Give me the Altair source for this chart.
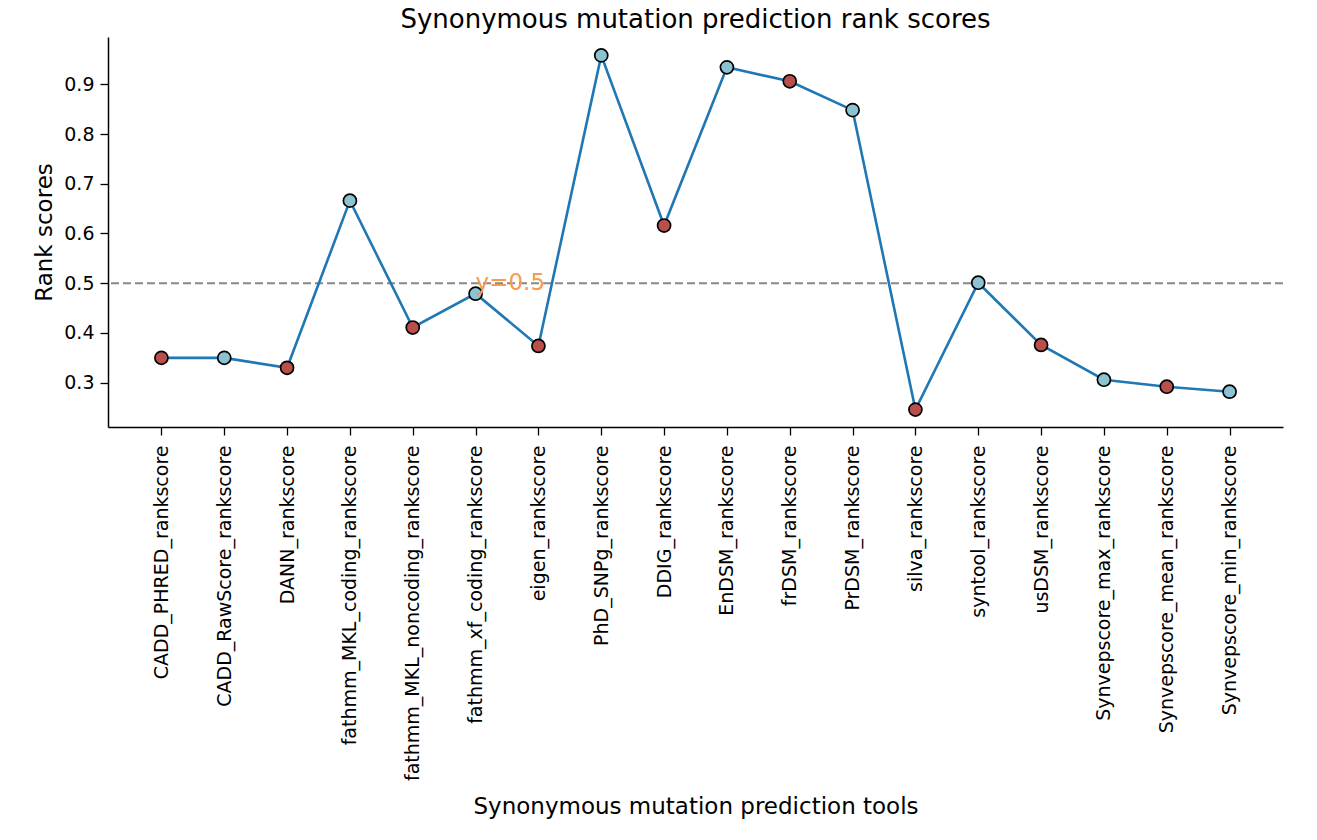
import altair as alt
import pandas as pd

tools = [
    "CADD_PHRED_rankscore", "CADD_RawScore_rankscore", "DANN_rankscore",
    "fathmm_MKL_coding_rankscore", "fathmm_MKL_noncoding_rankscore",
    "fathmm_xf_coding_rankscore", "eigen_rankscore", "PhD_SNPg_rankscore",
    "DDIG_rankscore", "EnDSM_rankscore", "frDSM_rankscore", "PrDSM_rankscore",
    "silva_rankscore", "syntool_rankscore", "usDSM_rankscore",
    "Synvepscore_max_rankscore", "Synvepscore_mean_rankscore",
    "Synvepscore_min_rankscore",
]
scores = [0.350, 0.350, 0.330, 0.666, 0.411, 0.479, 0.374, 0.958, 0.616,
          0.934, 0.906, 0.848, 0.246, 0.501, 0.376, 0.306, 0.292, 0.282]
groups = ["a", "b"] * 9
threshold = 0.5

df = pd.DataFrame({"tool": tools, "score": scores, "group": groups})

FONT = "DejaVu Sans"

x_enc = alt.X(
    "tool:N", sort=tools,
    scale=alt.Scale(type="point", padding=0.85),
    axis=alt.Axis(
        title="Synonymous mutation prediction tools",
        labelAngle=270, labelFontSize=19, labelColor="black", labelFont=FONT, labelLimit=0,
        titleFontSize=23, titleFont=FONT, titleFontWeight="normal", titleColor="black",
        titleY=368, titleBaseline="top", tickSize=8, tickColor="black", domainColor="black",
        domainWidth=1.5, tickWidth=1.3, labelPadding=10, grid=False,
    ),
)
y_scale = alt.Scale(domain=[0.211, 0.995], nice=False, zero=False)
y_enc = alt.Y(
    "score:Q", scale=y_scale,
    axis=alt.Axis(
        title="Rank scores", values=[0.3, 0.4, 0.5, 0.6, 0.7, 0.8, 0.9], format=".1f",
        labelFontSize=19, labelColor="black", labelFont=FONT,
        titleFontSize=23, titleFont=FONT, titleFontWeight="normal", titleColor="black",
        titlePadding=7, tickSize=8, tickColor="black", domainColor="black",
        domainWidth=1.5, tickWidth=1.3, labelPadding=6, grid=False,
    ),
)

base = alt.Chart(df)
line = base.mark_line(color="#1f77b4", strokeWidth=2.6).encode(x=x_enc, y=y_enc)
points = base.mark_point(filled=True, size=170, stroke="black", strokeWidth=1.7, opacity=1).encode(
    x=x_enc, y=y_enc,
    fill=alt.Fill("group:N", scale=alt.Scale(domain=["a", "b"], range=["#b84f4a", "#8cc3d2"]), legend=None),
)

tdf = pd.DataFrame({"y": [threshold], "tool": [tools[5]], "label": ["y=0.5"]})
rule = alt.Chart(tdf).mark_rule(color="#888888", strokeDash=[8, 4], strokeWidth=1.8).encode(
    y=alt.Y("y:Q", scale=y_scale)
)
text = alt.Chart(tdf).mark_text(
    align="left", baseline="middle", color="#f59a52", fontSize=23, font=FONT
).encode(x=alt.X("tool:N", sort=tools), y=alt.Y("y:Q", scale=y_scale), text="label:N")

chart = alt.layer(rule, line, points, text).properties(
    width=1175, height=390,
    title=alt.TitleParams("Synonymous mutation prediction rank scores", fontSize=26,
                          font=FONT, fontWeight="normal", color="black", offset=4,
                          anchor="middle"),
    autosize=alt.AutoSizeParams(type="none"),
    padding={"left": 100, "top": 29, "right": 26, "bottom": 413},
    background="white",
).configure_view(stroke=None)

chart.save("out.html", embed_options={"renderer": "svg", "actions": False})
